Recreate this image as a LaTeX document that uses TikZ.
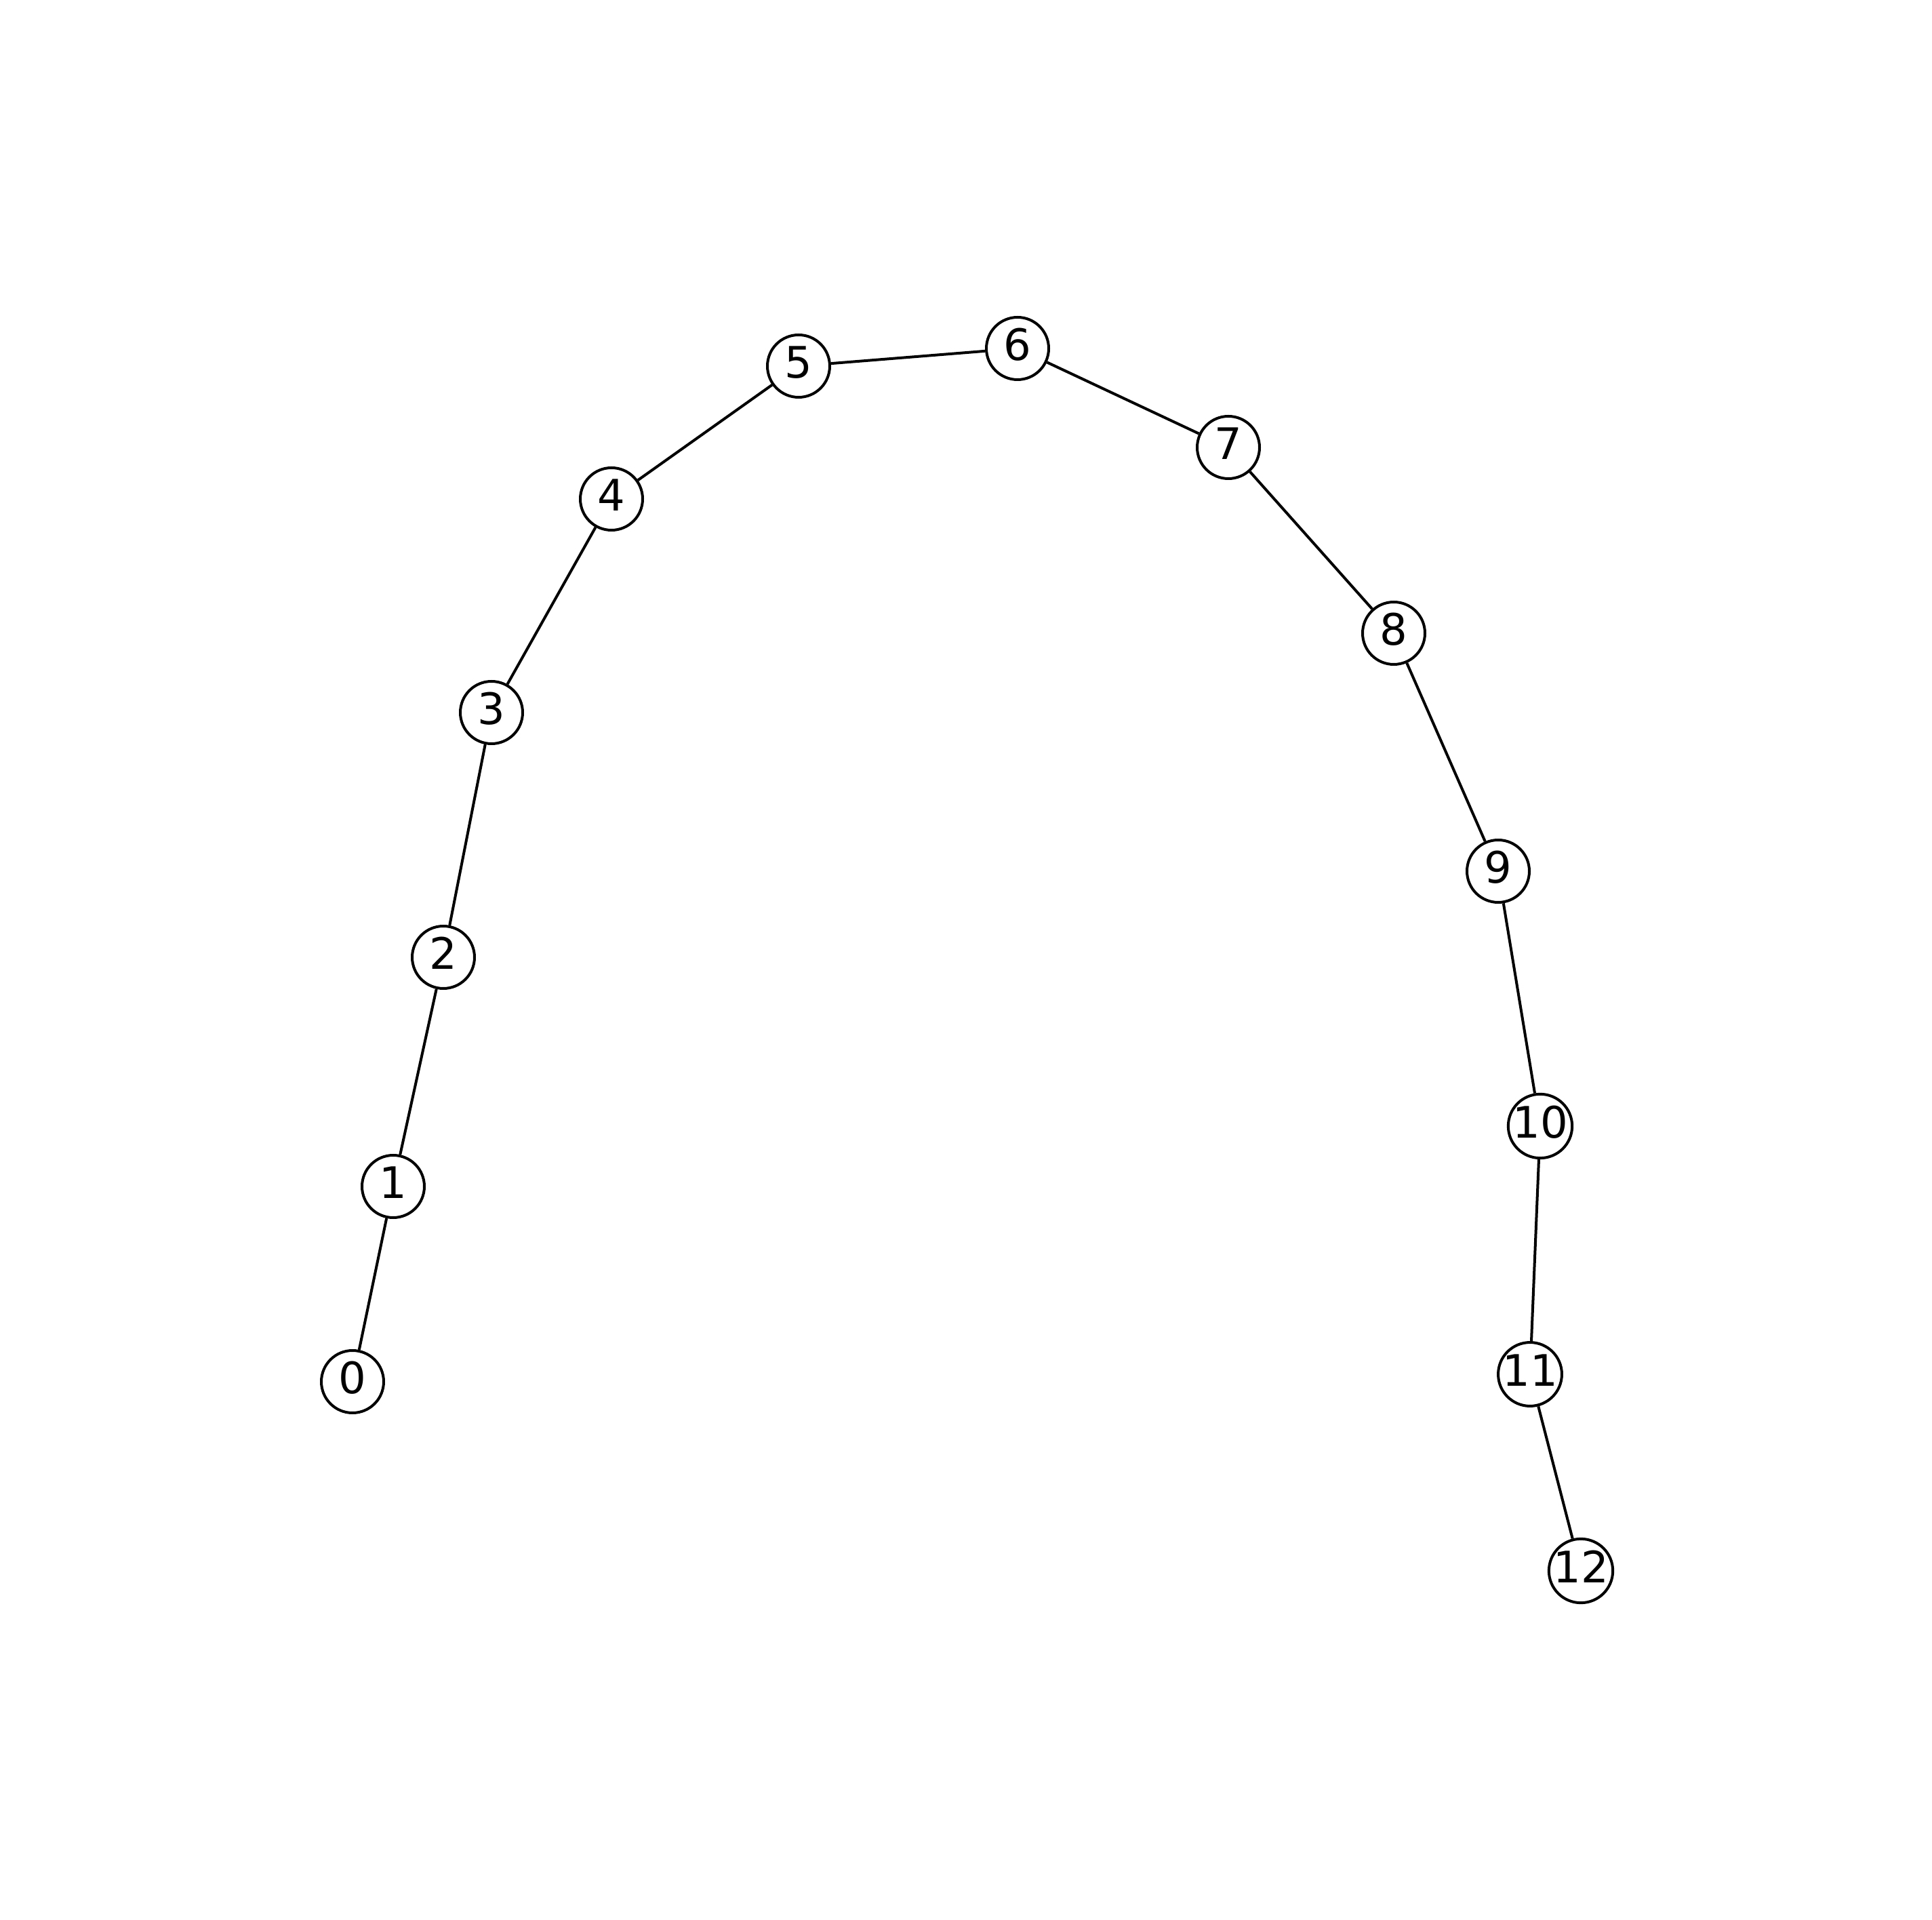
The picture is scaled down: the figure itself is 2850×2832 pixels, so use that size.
\documentclass[tikz,border=0pt]{standalone}
\usepackage{fontspec}
\setmainfont{DejaVu Sans}
\newcommand{\vlab}[1]{\raisebox{1.5pt}[\height][0pt]{#1}}
\begin{document}
\begin{tikzpicture}[x=0.25pt,y=-0.25pt,
  vertex/.style={circle,draw=black,fill=white,line width=1pt,minimum size=23pt,inner sep=0pt,font=\fontsize{16}{16}\selectfont},
  edge/.style={draw=black,line width=1pt}]
\useasboundingbox (0,0) rectangle (2850,2832);
\node[vertex] (n0) at (520,2038) {\vlab{0}};
\node[vertex] (n1) at (580,1750) {\vlab{1}};
\node[vertex] (n2) at (654,1412) {\vlab{2}};
\node[vertex] (n3) at (725,1051) {\vlab{3}};
\node[vertex] (n4) at (902,736) {\vlab{4}};
\node[vertex] (n5) at (1178,540) {\vlab{5}};
\node[vertex] (n6) at (1501,514) {\vlab{6}};
\node[vertex] (n7) at (1812,660) {\vlab{7}};
\node[vertex] (n8) at (2056,934) {\vlab{8}};
\node[vertex] (n9) at (2210,1285) {\vlab{9}};
\node[vertex] (n10) at (2272,1661) {\vlab{10}};
\node[vertex] (n11) at (2257,2027) {\vlab{11}};
\node[vertex] (n12) at (2332,2317) {\vlab{12}};
\foreach \a/\b in {0/1,1/2,2/3,3/4,4/5,5/6,6/7,7/8,8/9,9/10,10/11,11/12}
  \draw[edge] (n\a) -- (n\b);
\end{tikzpicture}
\end{document}
